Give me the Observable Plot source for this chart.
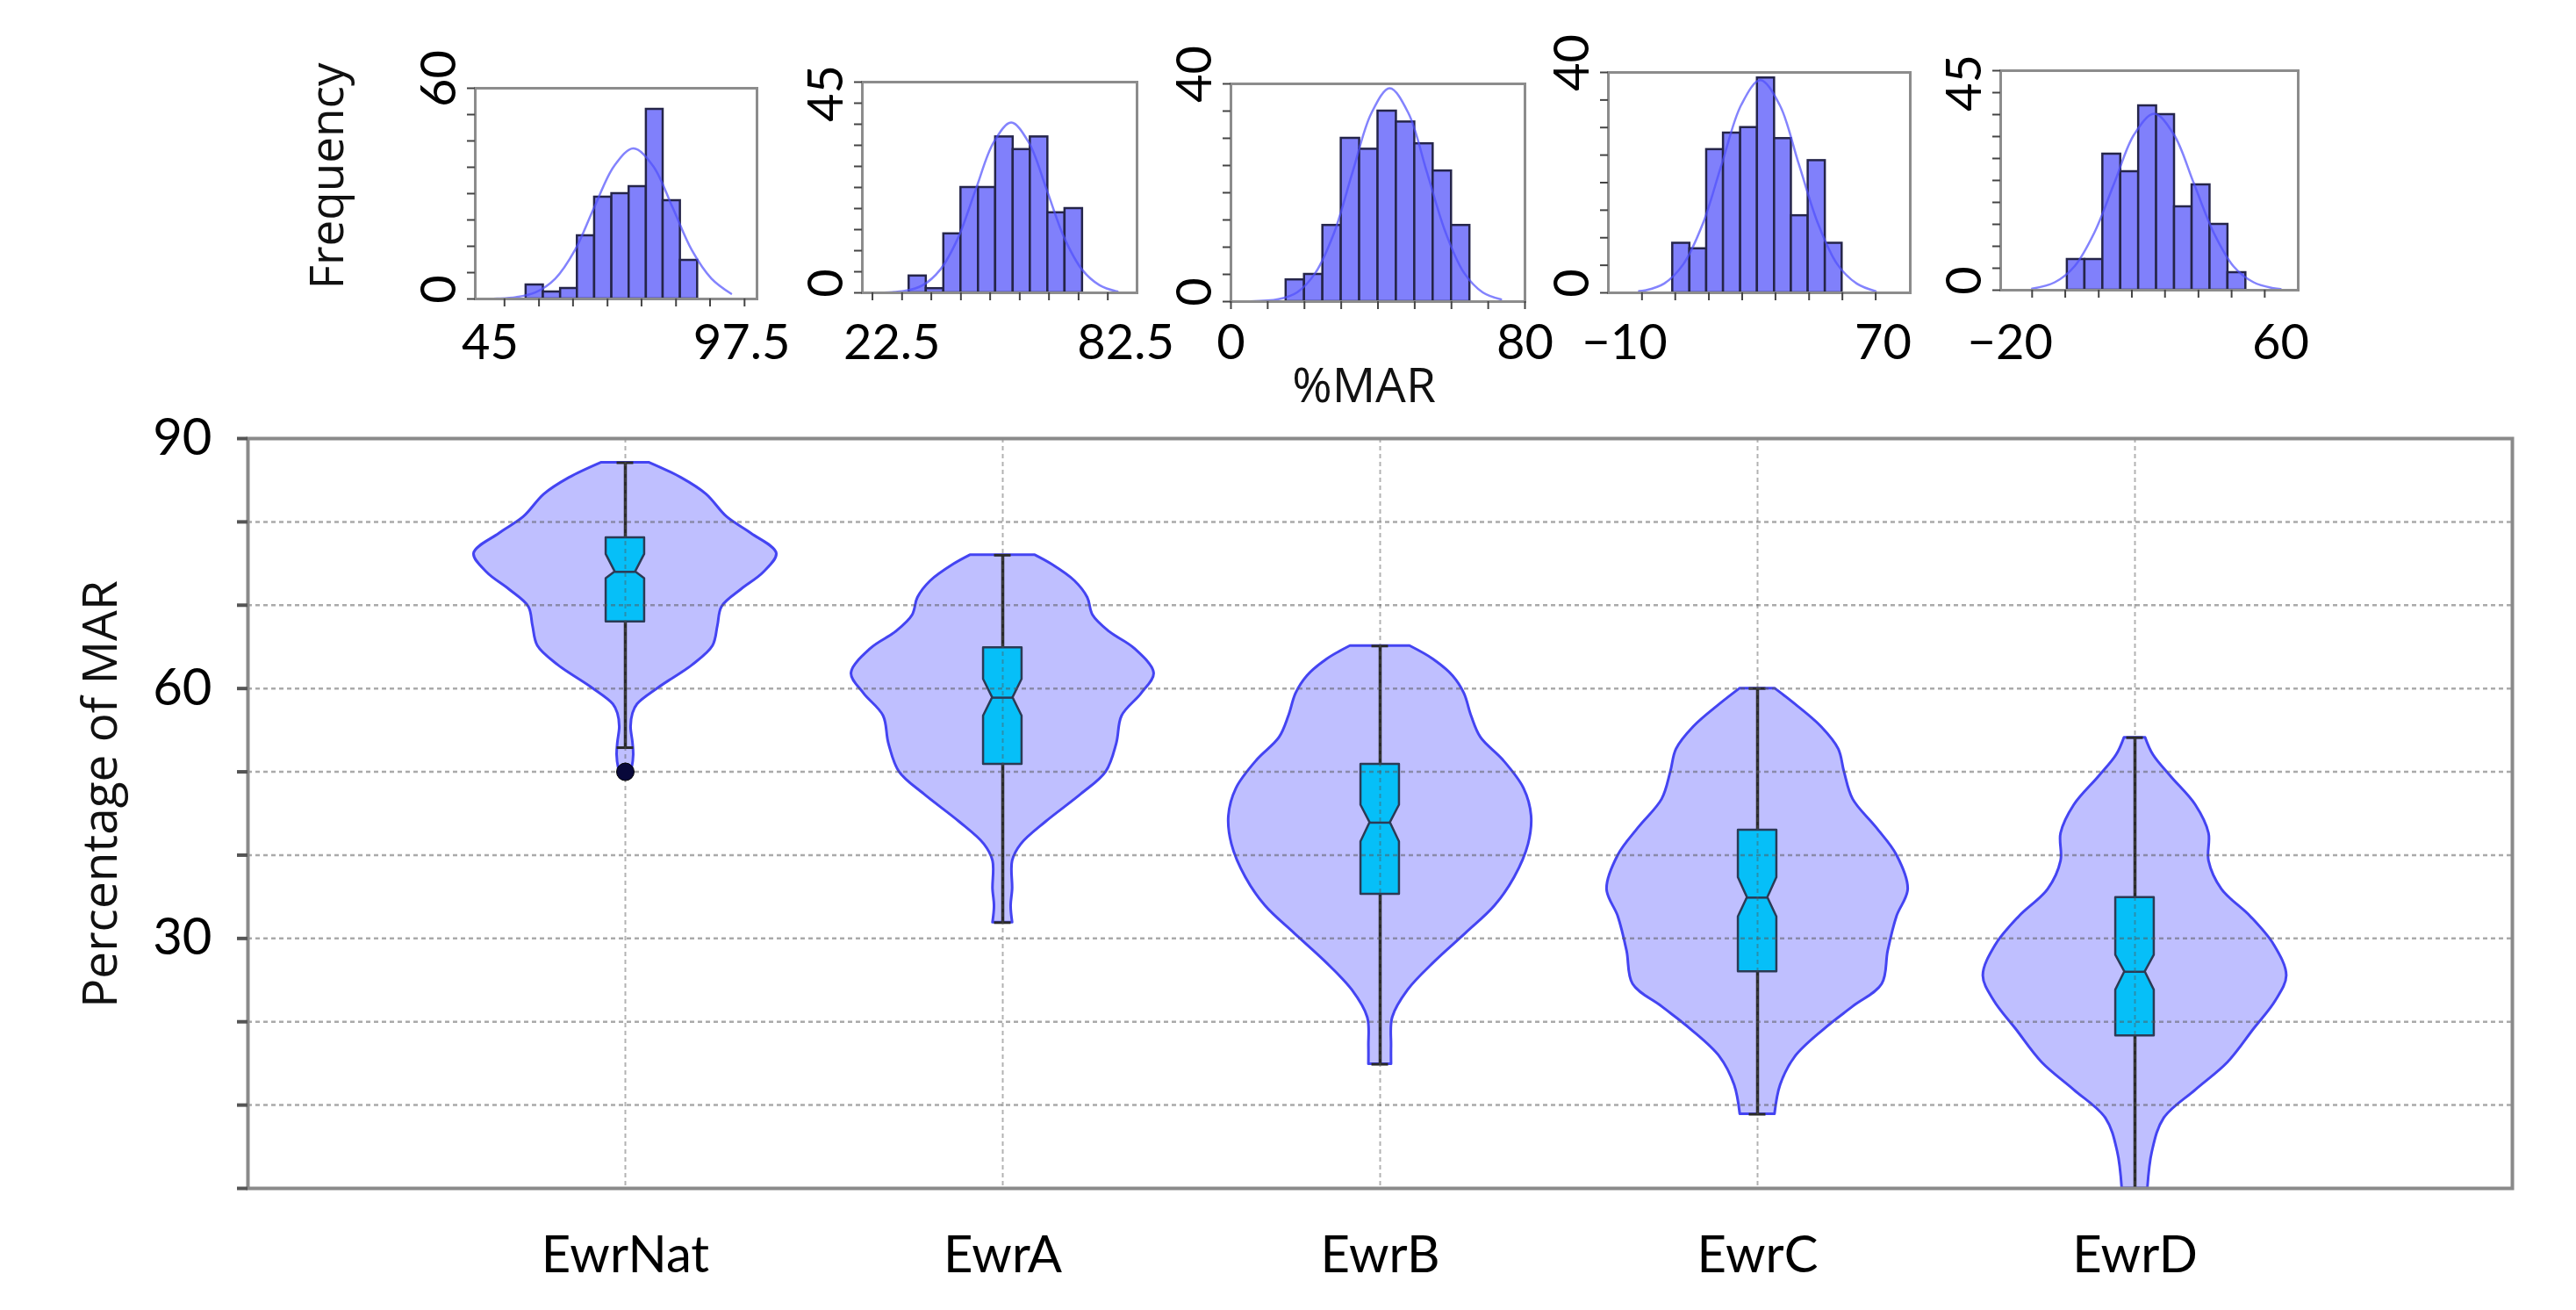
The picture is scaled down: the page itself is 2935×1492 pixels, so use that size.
<!DOCTYPE html>
<html>
<head>
<meta charset="utf-8">
<script src="https://cdn.jsdelivr.net/npm/d3@7"></script>
<script src="https://cdn.jsdelivr.net/npm/@observablehq/plot@0.6"></script>
<style>
  html, body { margin: 0; padding: 0; background: #fff; }
  #root { position: relative; width: 2935px; height: 1492px; overflow: hidden; background: #fff; }
  #root svg { position: absolute; overflow: visible; }
</style>
</head>
<body>
<div id="root"></div>
<script>
// ---------------- DATA ----------------
const categories = ["EwrNat", "EwrA", "EwrB", "EwrC", "EwrD"];

// Violin outlines: %MAR levels (bottom -> top) and half-widths (in category units)
const natLevels = [49.6, 50.5, 52.0, 53.5, 55.4, 57.0, 58.1, 60.1, 62.8, 65.1, 67.5, 69.8, 71.9, 73.9, 76.2, 78.6, 80.6, 83.3, 85.3, 87.1];
const natWidths = [0.010, 0.018, 0.022, 0.020, 0.015, 0.020, 0.032, 0.089, 0.178, 0.232, 0.245, 0.256, 0.308, 0.366, 0.401, 0.334, 0.269, 0.215, 0.148, 0.064];
const aLevels = [31.9, 33.9, 35.9, 39.3, 41.3, 44.0, 47.3, 50.0, 53.4, 56.7, 59.4, 61.8, 64.8, 66.8, 68.8, 70.9, 72.9, 74.9, 76.0];
const aWidths = [0.026, 0.022, 0.026, 0.026, 0.049, 0.115, 0.208, 0.274, 0.302, 0.316, 0.368, 0.401, 0.349, 0.283, 0.239, 0.225, 0.191, 0.130, 0.086];
const bLevels = [14.9, 17.1, 20.5, 23.8, 27.2, 30.6, 33.9, 37.3, 41.3, 44.7, 48.0, 51.4, 54.1, 56.7, 59.4, 61.5, 63.5, 65.1];
const bWidths = [0.030, 0.030, 0.033, 0.074, 0.145, 0.227, 0.304, 0.356, 0.393, 0.401, 0.381, 0.326, 0.267, 0.242, 0.223, 0.193, 0.141, 0.079];
const cLevels = [8.9, 12.4, 15.8, 19.1, 21.8, 24.5, 28.5, 32.6, 35.9, 40.0, 43.3, 46.7, 50.0, 52.7, 55.4, 58.1, 60.0];
const cWidths = [0.046, 0.061, 0.100, 0.177, 0.253, 0.330, 0.346, 0.369, 0.399, 0.369, 0.315, 0.253, 0.230, 0.215, 0.169, 0.100, 0.046];
const dLevels = [0.0, 4.4, 8.4, 11.8, 15.1, 19.1, 22.5, 25.5, 29.2, 32.6, 35.9, 39.3, 42.6, 46.0, 49.4, 52.0, 54.1];
const dWidths = [0.034, 0.046, 0.077, 0.161, 0.246, 0.315, 0.373, 0.402, 0.369, 0.307, 0.230, 0.196, 0.196, 0.161, 0.096, 0.049, 0.028];

// Notched box plot statistics
const q1 = [68.0, 50.9, 35.3, 26.0, 18.3];
const notchLo = [73.2, 56.7, 41.6, 32.6, 23.8];
const median = [74.0, 58.9, 43.9, 34.9, 26.0];
const notchHi = [76.1, 61.1, 46.0, 37.3, 28.0];
const q3 = [78.1, 64.9, 50.9, 43.0, 34.9];
const whiskerLo = [52.9, 31.9, 14.9, 8.9, 0.0];
const whiskerHi = [87.1, 76.0, 65.1, 60.0, 54.1];
const outlierCats = ["EwrNat"];
const outlierValues = [50.0];

const yTicks = [0, 10, 20, 30, 40, 50, 60, 70, 80, 90];
const yTickLabels = [30, 60, 90];

// Histograms (bin edges, frequencies, fitted normal curve)
const h1Edges = [52.5, 56.1, 59.7, 63.2, 66.8, 70.4, 74.0, 77.6, 81.1, 84.7, 88.3];
const h1Counts = [4, 2, 3, 18, 29, 30, 32, 54, 28, 11];
const h1CurveX = [42.6, 46.4, 50.4, 54.5, 58.6, 62.7, 66.7, 70.9, 74.9, 79.0, 83.1, 87.1, 91.2, 95.3];
const h1CurveY = [0, 0.1, 0.5, 1.9, 5.8, 13.9, 26.0, 37.9, 42.9, 37.9, 26.0, 13.9, 5.8, 1.5];
const h1Ticks = [48.0, 55.2, 62.3, 69.5, 76.6, 83.8, 90.9, 98.1];
const h1Labels = [45, 97.5];
const h1YLabels = [0, 60];

const h2Edges = [26.9, 31.3, 35.8, 40.2, 44.7, 49.1, 53.6, 58.0, 62.5, 66.9, 71.4];
const h2Counts = [4, 1, 14, 25, 25, 37, 34, 37, 19, 20];
const h2CurveX = [17.5, 25.8, 30.4, 34.9, 39.5, 44.0, 48.6, 53.1, 57.6, 62.2, 66.7, 71.3, 75.8, 80.4];
const h2CurveY = [0, 0.45, 1.8, 5.5, 13.1, 24.5, 35.7, 40.4, 35.7, 24.5, 13.1, 5.5, 1.8, 0.3];
const h2Ticks = [17.5, 25.1, 32.6, 40.2, 47.7, 55.3, 62.8, 70.4, 77.9];
const h2Labels = [22.5, 82.5];
const h2YLabels = [0, 45];

const h3Edges = [15, 20, 25, 30, 35, 40, 45, 50, 55, 60, 65];
const h3Counts = [4, 5, 14, 30, 28, 35, 33, 29, 24, 14];
const h3CurveX = [5.2, 12.9, 18.0, 23.0, 28.1, 33.1, 38.2, 43.2, 48.3, 53.3, 58.4, 63.4, 68.5, 73.5];
const h3CurveY = [0.05, 0.43, 1.7, 5.3, 12.7, 23.8, 34.6, 39.2, 34.6, 23.8, 12.7, 5.3, 1.7, 0.4];
const h3Ticks = [0, 10, 20, 30, 40, 50, 60, 70, 80];
const h3Labels = [0, 80];
const h3YLabels = [0, 40];

const h4Edges = [4.9, 10.2, 15.4, 20.6, 25.9, 31.1, 36.4, 41.6, 46.8, 52.1, 57.3];
const h4Counts = [9, 8, 26, 29, 30, 39, 28, 14, 24, 9];
const h4CurveX = [-5.5, -3.7, 2.3, 8.2, 14.2, 20.1, 26.1, 32.0, 38.0, 43.9, 49.9, 55.8, 61.8, 67.7];
const h4CurveY = [0.3, 0.43, 1.7, 5.2, 12.5, 23.4, 34.1, 38.6, 34.1, 23.4, 12.5, 5.2, 1.7, 0.3];
const h4Ticks = [-4.6, 5.7, 16.1, 26.4, 36.7, 47.1, 57.4, 67.7];
const h4Labels = [-10, 70];
const h4YLabels = [0, 40];

const h5Edges = [-3.1, 2.1, 7.4, 12.7, 18.0, 23.3, 28.6, 33.8, 39.1, 44.4, 49.7];
const h5Counts = [7, 7, 31, 27, 42, 40, 19, 24, 15, 4];
const h5CurveX = [-13.5, -6.8, -1.0, 4.9, 10.8, 16.7, 22.6, 28.4, 34.3, 40.2, 46.1, 52.0, 57.9, 60.0];
const h5CurveY = [0.35, 1.8, 5.4, 13.1, 24.4, 35.5, 40.2, 35.5, 24.4, 13.1, 5.4, 1.8, 0.45, 0.25];
const h5Ticks = [-13.5, -3.7, 6.2, 16.0, 25.8, 35.7, 45.5, 55.3];
const h5Labels = [-20, 60];
const h5YLabels = [0, 45];

// ---------------- DRAWING ----------------
const root = document.getElementById("root");
const NUM_FONT = "Lato, 'Open Sans', sans-serif";
const TITLE_FONT = "'Open Sans', 'Noto Sans', sans-serif";
const fmt = d => String(d).replace("-", "\u2212");
const X_LABEL_Y = 391;   // page row of the histogram x tick labels

function place(svg, left, top) {
  svg.style.left = left + "px";
  svg.style.top = top + "px";
  root.appendChild(svg);
}

function histogram(cfg) {
  const {edges, counts, curveX, curveY, domain, ticks, labels, yMax, yStep, yLabels, frame, m, extra} = cfg;
  const bins = counts.map((n, k) => ({x1: edges[k], x2: edges[k + 1], n}));
  const curve = curveX.map((x, k) => ({x, y: curveY[k]}));
  const fw = frame.x1 - frame.x0, fh = frame.y1 - frame.y0;
  const svg = Plot.plot({
    width: fw + m.l + m.r,
    height: fh + m.t + m.b,
    marginLeft: m.l, marginRight: m.r, marginTop: m.t, marginBottom: m.b,
    x: {domain, axis: null, label: null},
    y: {domain: [0, yMax], axis: null, label: null},
    style: {background: "transparent", fontFamily: NUM_FONT, fontSize: "56px", color: "#111", overflow: "visible"},
    marks: [
      Plot.rectY(bins, {x1: "x1", x2: "x2", y: "n", fill: "#8080fb", stroke: "#25254a", strokeWidth: 2.5}),
      Plot.line(curve, {x: "x", y: "y", curve: "catmull-rom", stroke: "#4f4ffc", strokeWidth: 2.5, strokeOpacity: 0.7}),
      Plot.frame({stroke: "#8c8c8c", strokeWidth: 3}),
      Plot.axisX(ticks, {anchor: "bottom", tickSize: 9, tickFormat: () => "", stroke: "#444", strokeWidth: 2, label: null}),
      Plot.axisY(d3.range(0, yMax + 0.001, yStep), {anchor: "left", tickSize: 9, tickFormat: () => "", stroke: "#444", strokeWidth: 2, label: null}),
      Plot.text(labels, {x: d => d, text: fmt, frameAnchor: "bottom", textAnchor: "middle", lineAnchor: "middle",
        dy: X_LABEL_Y - frame.y1, fontSize: 56, fill: "#000"}),
      Plot.text(yLabels, {y: d => d, text: fmt, frameAnchor: "left", textAnchor: "middle", lineAnchor: "middle",
        rotate: -90, dx: -40, dy: -11, fontSize: 56, fill: "#000"}),
      ...(extra || [])
    ]
  });
  place(svg, frame.x0 - m.l, frame.y0 - m.t);
}

histogram({
  edges: h1Edges, counts: h1Counts, curveX: h1CurveX, curveY: h1CurveY,
  domain: [41.9, 100.7], ticks: h1Ticks, labels: h1Labels, yMax: 60, yStep: 7.5, yLabels: h1YLabels,
  frame: {x0: 541, x1: 862, y0: 100, y1: 340}, m: {l: 230, r: 60, t: 40, b: 100},
  extra: [Plot.text(["Frequency"], {frameAnchor: "left", textAnchor: "middle", lineAnchor: "middle", rotate: -90,
    dx: -167, dy: -20, fontFamily: TITLE_FONT, fontSize: 53, fill: "#111"})]
});
histogram({
  edges: h2Edges, counts: h2Counts, curveX: h2CurveX, curveY: h2CurveY,
  domain: [14.9, 85.4], ticks: h2Ticks, labels: h2Labels, yMax: 50, yStep: 5, yLabels: h2YLabels,
  frame: {x0: 982, x1: 1295, y0: 93, y1: 333}, m: {l: 100, r: 80, t: 40, b: 100}
});
histogram({
  edges: h3Edges, counts: h3Counts, curveX: h3CurveX, curveY: h3CurveY,
  domain: [0, 80], ticks: h3Ticks, labels: h3Labels, yMax: 40, yStep: 5, yLabels: h3YLabels,
  frame: {x0: 1402, x1: 1737, y0: 95, y1: 343}, m: {l: 100, r: 60, t: 40, b: 150},
  extra: [Plot.text(["%MAR"], {frameAnchor: "bottom", textAnchor: "middle", lineAnchor: "middle",
    dx: -16, dy: 97, fontFamily: TITLE_FONT, fontSize: 55, fill: "#111"})]
});
histogram({
  edges: h4Edges, counts: h4Counts, curveX: h4CurveX, curveY: h4CurveY,
  domain: [-15.0, 78.4], ticks: h4Ticks, labels: h4Labels, yMax: 40, yStep: 5, yLabels: h4YLabels,
  frame: {x0: 1832, x1: 2176, y0: 82, y1: 333}, m: {l: 100, r: 60, t: 40, b: 100}
});
histogram({
  edges: h5Edges, counts: h5Counts, curveX: h5CurveX, curveY: h5CurveY,
  domain: [-22.8, 65.2], ticks: h5Ticks, labels: h5Labels, yMax: 50, yStep: 5, yLabels: h5YLabels,
  frame: {x0: 2279, x1: 2618, y0: 80, y1: 330}, m: {l: 100, r: 80, t: 40, b: 100}
});

// ---- main violin chart ----
const levelSets = [natLevels, aLevels, bLevels, cLevels, dLevels];
const widthSets = [natWidths, aWidths, bWidths, cWidths, dWidths];
const violinRows = categories.flatMap((cat, i) =>
  levelSets[i].map((v, k) => ({cat, i, v, w: widthSets[i][k]})));

const BOX_HW = 0.051, NOTCH_HW = 0.027, CAP_HW = 0.022;
const boxRows = categories.flatMap((cat, i) => [
  {cat, i, v: q1[i], w: BOX_HW},
  {cat, i, v: notchLo[i], w: BOX_HW},
  {cat, i, v: median[i], w: NOTCH_HW},
  {cat, i, v: notchHi[i], w: BOX_HW},
  {cat, i, v: q3[i], w: BOX_HW}
]);
const stats = categories.map((cat, i) => ({cat, i, lo: whiskerLo[i], hi: whiskerHi[i], med: median[i]}));
const caps = stats.flatMap(s => [{i: s.i, v: s.lo}, {i: s.i, v: s.hi}]);
const outliers = outlierCats.map((c, k) => ({i: categories.indexOf(c), v: outlierValues[k]}));

const main = Plot.plot({
  width: 2935, height: 1052,
  marginLeft: 282, marginRight: 73, marginTop: 59, marginBottom: 139,
  x: {domain: [-1, 5], axis: null, label: null},
  y: {domain: [0, 90], axis: null, label: null},
  style: {background: "transparent", fontFamily: NUM_FONT, fontSize: "58px", color: "#111", overflow: "visible"},
  marks: [
    Plot.areaX(violinRows, {y: "v", x1: d => d.i - d.w, x2: d => d.i + d.w, z: "cat", curve: "catmull-rom",
      fill: "#8080ff", fillOpacity: 0.5, stroke: "#4444f2", strokeWidth: 3}),
    Plot.ruleX(stats, {x: "i", y1: "lo", y2: "hi", stroke: "#2a2a2a", strokeWidth: 3.5}),
    Plot.ruleY(caps, {y: "v", x1: d => d.i - CAP_HW, x2: d => d.i + CAP_HW, stroke: "#2a2a2a", strokeWidth: 3}),
    Plot.areaX(boxRows, {y: "v", x1: d => d.i - d.w, x2: d => d.i + d.w, z: "cat",
      fill: "#06bff8", stroke: "#2b3a55", strokeWidth: 2.5}),
    Plot.ruleY(stats, {y: "med", x1: d => d.i - NOTCH_HW, x2: d => d.i + NOTCH_HW, stroke: "#2b3a55", strokeWidth: 2.5}),
    Plot.gridY(yTicks.filter(d => d > 0 && d < 90), {stroke: "#555", strokeOpacity: 0.5, strokeWidth: 2.5, strokeDasharray: "5,4"}),
    Plot.gridX(categories.map((c, i) => i), {stroke: "#555", strokeOpacity: 0.45, strokeWidth: 2, strokeDasharray: "5,4"}),
    Plot.dot(outliers, {x: "i", y: "v", r: 10, fill: "#08083a", stroke: "#000", strokeWidth: 1}),
    Plot.frame({stroke: "#8a8a8a", strokeWidth: 4}),
    Plot.axisY(yTicks, {anchor: "left", tickSize: 12, tickPadding: 29, stroke: "#555", strokeWidth: 4,
      tickFormat: d => yTickLabels.includes(d) ? String(d) : "", fontSize: 58, fill: "#000", label: null}),
    Plot.text(categories, {x: (d, i) => i, text: d => d, frameAnchor: "bottom", textAnchor: "middle", lineAnchor: "middle",
      dy: 77, fontSize: 58, fill: "#000"}),
    Plot.text(["Percentage of MAR"], {frameAnchor: "left", textAnchor: "middle", lineAnchor: "middle", rotate: -90,
      dx: -167, dy: -22, fontFamily: TITLE_FONT, fontSize: 55, fill: "#111"})
  ]
});
place(main, 0, 440);
</script>
</body>
</html>
